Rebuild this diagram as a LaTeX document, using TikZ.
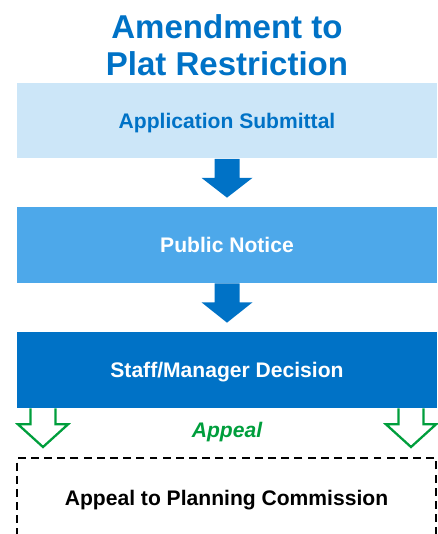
\documentclass[tikz,border=0pt]{standalone}
\usepackage{fontspec}
\setmainfont{Liberation Sans}
\usetikzlibrary{calc}
\definecolor{titleblue}{RGB}{0,114,198}
\definecolor{paleblue}{RGB}{204,230,248}
\definecolor{midblue}{RGB}{77,168,234}
\definecolor{appealgreen}{RGB}{0,158,60}
\tikzset{
  stagebox/.style={minimum width=8.4cm,minimum height=1.52cm,inner sep=0pt,
    text height=8.6pt,text depth=0pt,font=\fontsize{12}{14}\selectfont\bfseries},
  flowarrow/.style={fill=titleblue},
  appealarrow/.style={draw=appealgreen,line width=1.3pt,fill=white,line join=miter}
}
\begin{document}
\begin{tikzpicture}[x=0.02cm,y=-0.02cm]
  \useasboundingbox (0,0) rectangle (437,534);
  \node[align=center,text=titleblue,font=\fontsize{18.8}{21.2}\selectfont\bfseries] (title) at (227,45.5) {Amendment to\\Plat Restriction};
  \node[stagebox,fill=paleblue,text=titleblue] (sub) at (227,120.5) {Application Submittal};
  \node[stagebox,fill=midblue,text=white] (pub) at (227,245) {Public Notice};
  \node[stagebox,fill=titleblue,text=white] (dec) at (227,370) {Staff/Manager Decision};
  \node[stagebox,draw,dashed,dash pattern=on 4.5pt off 3pt,line width=1.2pt,minimum width=8.38cm,minimum height=1.6cm] (plan) at (226.5,498) {Appeal to Planning Commission};
  \node[text=appealgreen,inner sep=0pt,text height=8.6pt,text depth=0pt,font=\fontsize{12}{14}\selectfont\bfseries\itshape] (appeal) at (227,429.5) {Appeal};
  % solid arrows between the stages
  \fill[flowarrow] ($(sub.south)+(-12.5,0)$) -- ++(0,19) -- ++(-13,0) -- ($(pub.north)+(0,-9)$)
    -- ($(sub.south)+(25.5,19)$) -- ++(-13,0) -- ++(0,-19) -- cycle;
  \fill[flowarrow] ($(pub.south)+(-12.5,0)$) -- ++(0,19) -- ++(-13,0) -- ($(dec.north)+(0,-9)$)
    -- ($(pub.south)+(25.5,19)$) -- ++(-13,0) -- ++(0,-19) -- cycle;
  % hollow appeal arrows
  \coordinate (tipL) at (43,447);
  \coordinate (tipR) at (411,447);
  \draw[appealarrow] ($(dec.south -| tipL)+(-12.5,0)$) -- ++(0,16) -- ++(-12.5,0) -- (tipL)
    -- ($(dec.south -| tipL)+(25,16)$) -- ++(-12.5,0) -- ++(0,-16);
  \draw[appealarrow] ($(dec.south -| tipR)+(-12.5,0)$) -- ++(0,16) -- ++(-12.5,0) -- (tipR)
    -- ($(dec.south -| tipR)+(25,16)$) -- ++(-12.5,0) -- ++(0,-16);
\end{tikzpicture}
\end{document}
